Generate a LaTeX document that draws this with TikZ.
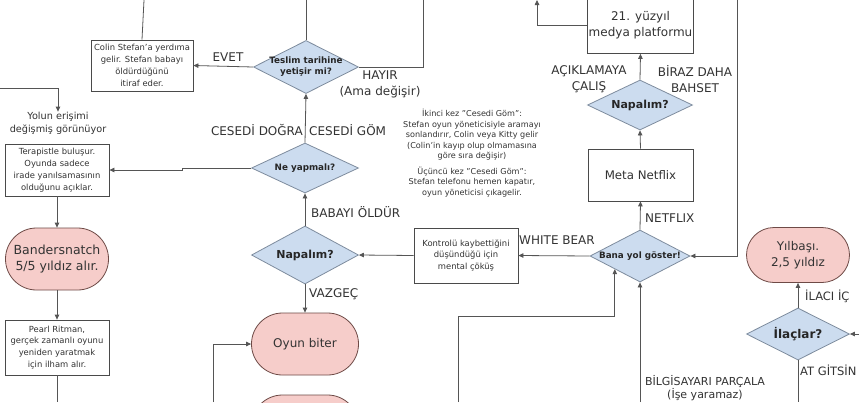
\documentclass[tikz,border=0pt]{standalone}
\usepackage{fontspec}
\setmainfont{DejaVu Sans}
\usetikzlibrary{shapes.geometric,shapes.misc,arrows.meta,calc}
\definecolor{linec}{HTML}{555555}
\definecolor{boxc}{HTML}{4A4A4A}
\definecolor{pillf}{HTML}{F6CDCA}
\definecolor{pillb}{HTML}{6E4A46}
\definecolor{diaf}{HTML}{CCDCEF}
\definecolor{diab}{HTML}{7E8C9E}
\definecolor{labc}{HTML}{333333}
\begin{document}
\begin{tikzpicture}[x=1pt,y=-1pt,
  ln/.style={draw=linec,line width=0.8pt},
  arr/.style={ln,-{Triangle[length=5pt,width=4.5pt]}},
  box/.style={draw=boxc,line width=0.8pt,fill=white,align=center,inner sep=1pt,text=labc,font=\fontsize{8.4}{11.8}\selectfont},
  pill/.style={rounded rectangle,draw=pillb,line width=0.8pt,fill=pillf,align=center,inner sep=1pt,text=labc,font=\fontsize{12.5}{16}\selectfont},
  dia/.style={diamond,draw=diab,line width=0.8pt,fill=diaf,inner sep=0pt},
  dtext/.style={align=center,inner sep=0pt,text=black!85,font=\bfseries\fontsize{8.8}{11}\selectfont},
  dbig/.style={align=center,inner sep=0pt,text=black!85,font=\bfseries\fontsize{11}{13}\selectfont},
  lbl/.style={align=center,inner sep=0pt,text=labc,font=\fontsize{12}{16}\selectfont},
  slbl/.style={align=center,inner sep=0pt,text=labc,font=\fontsize{9.7}{13}\selectfont},
  note/.style={align=center,inner sep=0pt,text=labc,font=\fontsize{8.1}{10.5}\selectfont}]
\useasboundingbox[fill=white] (0,0) rectangle (859,402);

% ---- nodes ----
\node[box,minimum width=102pt,minimum height=51pt] (colin) at (142,65.5)
  {Colin Stefan'a yerdıma\\gelir. Stefan babayı\\öldürdüğünü\\itiraf eder.};
\node[dia,minimum width=105pt,minimum height=53pt,label={[dtext]center:{Teslim tarihine\\yetişir mi?}}] (teslim) at (306,67) {};
\node[dia,minimum width=107pt,minimum height=50pt,label={[dtext]center:{Ne yapmalı?}}] (neyap) at (305,168) {};
\node[dia,minimum width=107pt,minimum height=58pt,label={[dbig]center:{Napalım?}}] (nap1) at (305,255) {};
\node[pill,minimum width=109pt,minimum height=62pt,font=\fontsize{12}{15}\selectfont] (oyun) at (305,344) {Oyun biter};
\node[pill,minimum width=109pt,minimum height=62pt] (alt) at (305,426) {};

\node[slbl] (yolun) at (58,123) {Yolun erişimi\\değişmiş görünüyor};
\node[box,minimum width=104pt,minimum height=52pt] (terap) at (57,170)
  {Terapistle buluşur.\\Oyunda sadece\\irade yanılsamasının\\olduğunu açıklar.};
\node[pill,minimum width=105pt,minimum height=62pt] (bander) at (57,259) {Bandersnatch\\5/5 yıldız alır.};
\node[box,minimum width=104pt,minimum height=55pt] (pearl) at (57,347.5)
  {Pearl Ritman,\\gerçek zamanlı oyunu\\yeniden yaratmak\\için ilham alır.};

\node[box,minimum width=104pt,minimum height=55pt] (kontrol) at (466,255.5)
  {Kontrolü kaybettiğini\\düşündüğü için\\mental çöküş};
\node[dia,minimum width=100pt,minimum height=52pt,label={[dtext]center:{Bana yol göster!}}] (bana) at (640,256) {};
\node[box,minimum width=105pt,minimum height=52pt,font=\fontsize{11.8}{14}\selectfont] (meta) at (640.5,175) {Meta Netflix};
\node[dia,minimum width=105pt,minimum height=50pt,label={[dbig]center:{Napalım?}}] (nap2) at (640,105) {};
\node[box,minimum width=105pt,minimum height=57pt,font=\fontsize{12}{15.5}\selectfont] (yuzyil) at (640.5,25) {21. yüzyıl\\medya platformu};

\node[pill,minimum width=105pt,minimum height=55pt,font=\fontsize{12}{16}\selectfont] (yilbasi) at (798,255) {Yılbaşı.\\2,5 yıldız};
\node[dia,minimum width=103pt,minimum height=52pt,label={[dbig,font=\bfseries\fontsize{12}{14}\selectfont]center:{İlaçlar?}}] (ilac) at (798,334) {};

\node[note] (anno) at (472,153) {İkinci kez "Cesedi Göm":\\Stefan oyun yöneticisiyle aramayı\\sonlandırır, Colin veya Kitty gelir\\(Colin'in kayıp olup olmamasına\\göre sıra değişir)\\[5pt]Üçüncü kez "Cesedi Göm":\\Stefan telefonu hemen kapatır,\\oyun yöneticisi çıkagelir.};

% ---- free ends ----
\coordinate (cTop) at (144,0);
\coordinate (tTop) at (306,0);
\coordinate (hTop) at (423,0);
\coordinate (yL) at (0,88);
\coordinate (pBot) at (57,402);
\coordinate (oL) at (213,402);
\coordinate (mTop) at (537,0);
\coordinate (rTop) at (737,0);
\coordinate (bB) at (640,402);
\coordinate (kB) at (458,402);
\coordinate (iR) at (859,334);
\coordinate (iB) at (798,402);

% ---- connectors ----
\draw[ln] (cTop) -- (colin.north);
\draw[arr] (teslim.west) -- (colin.east);
\draw[ln] (teslim.north) -- (tTop);
\draw[ln] (teslim.east) -| (hTop);
\draw[arr] (neyap.north) -- (teslim.south);
\draw[arr] (neyap.west) -- (182,168) -- (182,170) -- (terap.east);
\draw[arr] (yL) -| (yolun.north);
\draw[arr] (terap.south) -- (bander.north);
\draw[arr] (bander.south) -- (pearl.north);
\draw[ln] (pearl.south) -- (pBot);
\draw[arr] (nap1.north) -- (neyap.south);
\draw[arr] (nap1.south) -- (oyun.north);
\draw[arr] (oL) |- (oyun.west);
\draw[arr] (kontrol.west) -- (nap1.east);
\draw[arr] (bana.west) -- (kontrol.east);
\draw[arr] (bana.north) -- (meta.south);
\draw[arr] (meta.north) -- (nap2.south);
\draw[arr] (nap2.north) -- (yuzyil.south);
\draw[arr] (yuzyil.west) -| (mTop);
\draw[arr] (rTop) |- (bana.east);
\draw[arr] (bB) -- (bana.south);
\draw[arr] (kB) |- ($(bana.west)!0.5!(bana.south)+(0,47)$) -- ($(bana.west)!0.5!(bana.south)$);
\draw[arr] (ilac.north) -- (yilbasi.south);
\draw[arr] (iR) -- (ilac.east);
\draw[ln] (ilac.south) -- (iB);

% ---- labels ----
\node[lbl] (lEvet) at (228,57) {EVET};
\node[lbl] (lHayir) at (380,84) {HAYIR\\(Ama değişir)};
\node[lbl,anchor=east] (lDogra) at (303,130) {CESEDİ DOĞRA};
\node[lbl,anchor=west] (lGom) at (309,130) {CESEDİ GÖM};
\node[lbl,anchor=west] (lBaba) at (311,212) {BABAYI ÖLDÜR};
\node[lbl,anchor=west] (lVaz) at (309,294) {VAZGEÇ};
\node[lbl] (lWhite) at (557,240) {WHITE BEAR};
\node[lbl,anchor=west] (lNet) at (645,218) {NETFLIX};
\node[lbl] (lAcik) at (589,79) {AÇIKLAMAYA\\ÇALIŞ};
\node[lbl] (lBiraz) at (695,79) {BİRAZ DAHA\\BAHSET};
\node[slbl,font=\fontsize{11}{13}\selectfont] (lBilg) at (705,388) {BİLGİSAYARI PARÇALA\\(İşe yaramaz)};
\node[slbl,anchor=west,font=\fontsize{11.5}{13}\selectfont] (lIlac) at (805,296) {İLACI İÇ};
\node[slbl,anchor=west,font=\fontsize{11.5}{13}\selectfont] (lAt) at (800,370) {AT GİTSİN};
\end{tikzpicture}
\end{document}
